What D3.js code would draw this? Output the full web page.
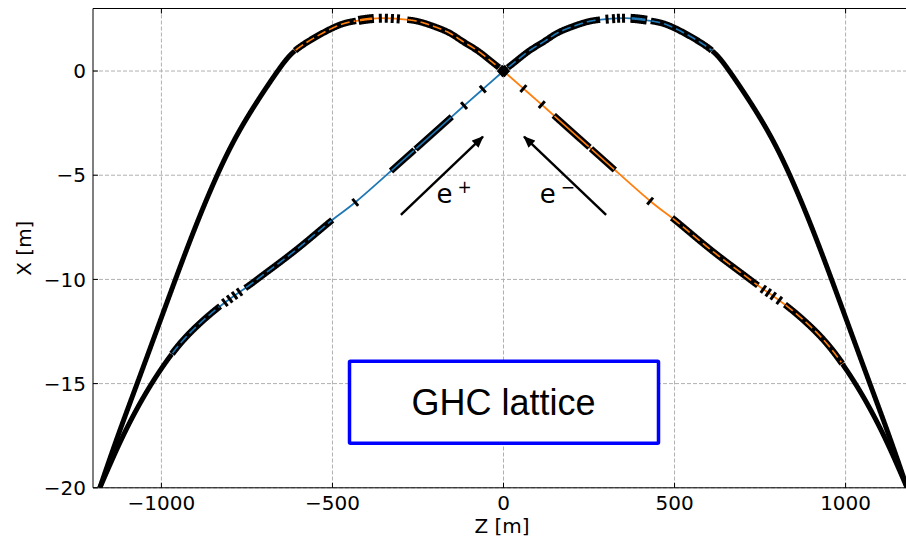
<!DOCTYPE html>
<html><head><meta charset="utf-8">
<script src="https://cdn.jsdelivr.net/npm/d3@7"></script>
<style>html,body{margin:0;padding:0;overflow:hidden;background:#fff}</style>
</head><body>
<svg id="c" width="906" height="541"></svg>
<script>
// ---------------- data ----------------
const zTicks = [-1000, -500, 0, 500, 1000];
const xTicks = [0, -5, -10, -15, -20];
const zDomain = [-1200, 1200];
const xDomain = [3, -20];

// e+ beam (blue): incoming branch on the left, arc on the right
const posZ = [-1180, -1129, -1081, -1027, -964, -900, -822, -750, -700, -600, -497, -433, -329, -258, -151, -115, -61, 0,
              40, 78, 120, 156, 200, 250, 300, 370, 440, 500, 594, 660, 759, 837, 901, 959, 1015, 1071, 1127, 1180];
const posX = [-20, -18.1, -16.5, -14.96, -13.46, -12.3, -11.2, -10.36, -9.75, -8.5, -7.1, -6.3, -4.8, -3.76, -2.19, -1.66, -0.88, 0,
              0.52, 1.0, 1.43, 1.81, 2.12, 2.38, 2.49, 2.53, 2.38, 2.06, 1.17, 0, -2.5, -5, -7.5, -10, -12.5, -15, -17.5, -20];
// e- beam (orange): arc on the left, incoming branch on the right
const eleZ = [-1180, -1127, -1071, -1015, -959, -901, -837, -759, -660, -594, -500, -440, -370, -300, -250, -200, -156, -120, -78, -40, 0,
              61, 115, 151, 258, 329, 433, 497, 600, 700, 750, 822, 900, 964, 1027, 1081, 1129, 1180];
const eleX = [-20, -17.5, -15, -12.5, -10, -7.5, -5, -2.5, 0, 1.17, 2.06, 2.38, 2.53, 2.49, 2.38, 2.12, 1.81, 1.43, 1.0, 0.52, 0,
              -0.88, -1.66, -2.19, -3.76, -4.8, -6.3, -7.1, -8.5, -9.75, -10.36, -11.2, -12.3, -13.46, -14.96, -16.5, -18.1, -20];

// lattice elements along Z
const posSolid   = [[-1180, -970], [610, 1180]];
const posBox     = [[-329, -260], [-257, -151]];
const posDashBox = [[-970, -828], [-755, -500], [12, 283], [430, 610]];
const posBigBox  = [[370, 420]];
const posTicks   = [-815, -800, -786, -772, -433, -115, -61, 303, 321, 336, 351];

const eleSolid   = [[-1180, -610], [990, 1180]];
const eleBox     = [[146, 252], [255, 326]];
const eleDashBox = [[-610, -430], [-282, -12], [492, 745], [822, 990]];
const eleBigBox  = [[-425, -378]];
const eleTicks   = [-360, -343, -325, -307, 58, 112, 429, 759, 774, 789, 806];
const ipRange    = [-12, 12];

const arrowFrom = [[-300, -6.9], [300, -6.9]];
const arrowTo   = [[-60, -3.15], [60, -3.15]];
const labelPos  = [[-196, -6.33], [106, -6.33]];
const labelSup  = ["+", "\u2212"];
const boxText = "GHC lattice";
const boxPos = [0, -15.9];

// ---------------- drawing ----------------
const L = 93, T = 8.5, R = 914, B = 487.8;
const svg = d3.select('#c');
const x = d3.scaleLinear().domain(zDomain).range([L, R]);
const y = d3.scaleLinear().domain(xDomain).range([T, B]);
const BLUE = '#1f77b4', ORANGE = '#ff7f0e';
const FONT = 'DejaVu Sans, sans-serif';

const defs = svg.append('defs');
defs.append('clipPath').attr('id', 'plotclip')
  .append('rect').attr('x', L).attr('y', T).attr('width', R - L).attr('height', B - T);

// grid
const grid = svg.append('g').attr('stroke', '#b0b0b0').attr('stroke-width', 1).attr('stroke-dasharray', '4,2');
zTicks.forEach(t => grid.append('line').attr('x1', x(t)).attr('x2', x(t)).attr('y1', T).attr('y2', B));
xTicks.forEach(t => grid.append('line').attr('x1', L).attr('x2', R).attr('y1', y(t)).attr('y2', y(t)));

const curveLine = d3.line().x(d => x(d[0])).y(d => y(d[1])).curve(d3.curveNatural);
const pxLine = d3.line();
const plot = svg.append('g').attr('clip-path', 'url(#plotclip)');

function sampleBeam(Z, X) {
  const pts = Z.map((z, i) => [z, X[i]]);
  // two branches meet with a kink at the interaction point (Z = 0)
  const parts = [pts.filter(p => p[0] <= 0), pts.filter(p => p[0] >= 0)];
  const s = [];
  const ds = [];
  parts.forEach(part => {
    const d = curveLine(part);
    ds.push(d);
    const tmp = plot.append('path').attr('d', d).attr('fill', 'none');
    const node = tmp.node();
    const len = node.getTotalLength();
    for (let l = 0; l <= len; l += 0.5) { const p = node.getPointAtLength(l); s.push([p.x, p.y]); }
    tmp.remove();
  });
  return { d: ds.join(''), s };
}
function seg(s, z0, z1) { const a = x(z0), b = x(z1); return s.filter(p => p[0] >= a && p[0] <= b); }

function drawBeam(Z, X, color, solid, box, dashBox, bigBox, ticks) {
  const b = sampleBeam(Z, X);
  const g = plot.append('g').attr('fill', 'none');
  g.append('path').attr('d', b.d).attr('stroke', color).attr('stroke-width', 1.8);
  solid.forEach(r => g.append('path').attr('d', pxLine(seg(b.s, r[0], r[1]))).attr('stroke', '#000').attr('stroke-width', 5));
  box.concat(dashBox).forEach(r => g.append('path').attr('d', pxLine(seg(b.s, r[0], r[1]))).attr('stroke', '#000').attr('stroke-width', 6.5));
  bigBox.forEach(r => g.append('path').attr('d', pxLine(seg(b.s, r[0], r[1]))).attr('stroke', '#000').attr('stroke-width', 9));
  box.forEach(r => g.append('path').attr('d', pxLine(seg(b.s, r[0] + 2, r[1] - 2))).attr('stroke', color).attr('stroke-width', 1.6));
  dashBox.forEach(r => g.append('path').attr('d', pxLine(seg(b.s, r[0] + 2, r[1] - 2))).attr('stroke', color).attr('stroke-width', 1.6).attr('stroke-dasharray', '9,4'));
  bigBox.forEach(r => g.append('path').attr('d', pxLine(seg(b.s, r[0] + 4, r[1] - 4))).attr('stroke', color).attr('stroke-width', 2.5));
  ticks.forEach(t => {
    const px = x(t);
    const i = d3.leastIndex(b.s, p => Math.abs(p[0] - px));
    const a = b.s[Math.max(0, i - 4)], c = b.s[Math.min(b.s.length - 1, i + 4)];
    let dx = c[0] - a[0], dy = c[1] - a[1]; const n = Math.hypot(dx, dy); dx /= n; dy /= n;
    const p = b.s[i], h = 4.5;
    g.append('line').attr('x1', p[0] - dy * h).attr('y1', p[1] + dx * h).attr('x2', p[0] + dy * h).attr('y2', p[1] - dx * h)
      .attr('stroke', '#000').attr('stroke-width', 3);
  });
  g.append('path').attr('d', pxLine(seg(b.s, ipRange[0], ipRange[1]))).attr('stroke', '#000').attr('stroke-width', 8);
}
drawBeam(eleZ, eleX, ORANGE, eleSolid, eleBox, eleDashBox, eleBigBox, eleTicks);
drawBeam(posZ, posX, BLUE, posSolid, posBox, posDashBox, posBigBox, posTicks);

// spines and ticks
const ax = svg.append('g').attr('stroke', '#000').attr('stroke-width', 1);
ax.append('line').attr('x1', L).attr('x2', L).attr('y1', T).attr('y2', B);
ax.append('line').attr('x1', L).attr('x2', R).attr('y1', T).attr('y2', T);
ax.append('line').attr('x1', L).attr('x2', R).attr('y1', B).attr('y2', B);
ax.append('line').attr('x1', R).attr('x2', R).attr('y1', T).attr('y2', B);
zTicks.forEach(t => {
  ax.append('line').attr('x1', x(t)).attr('x2', x(t)).attr('y1', B).attr('y2', B - 5);
  ax.append('line').attr('x1', x(t)).attr('x2', x(t)).attr('y1', T).attr('y2', T + 5);
});
xTicks.forEach(t => ax.append('line').attr('x1', L).attr('x2', L + 5).attr('y1', y(t)).attr('y2', y(t)));

const fmt = v => (v < 0 ? '\u2212' + Math.abs(v) : String(v));
svg.append('g').selectAll('text').data(zTicks).join('text')
  .attr('x', d => x(d)).attr('y', 510).attr('text-anchor', 'middle')
  .attr('font-family', FONT).attr('font-size', 20).text(fmt);
svg.append('g').selectAll('text').data(xTicks).join('text')
  .attr('x', 86).attr('y', d => y(d)).attr('dy', '0.36em').attr('text-anchor', 'end')
  .attr('font-family', FONT).attr('font-size', 20).text(fmt);
svg.append('text').attr('x', 502).attr('y', 533).attr('text-anchor', 'middle')
  .attr('font-family', FONT).attr('font-size', 20).text('Z [m]');
svg.append('text').attr('transform', `translate(31,${(T + B) / 2}) rotate(-90)`).attr('text-anchor', 'middle')
  .attr('font-family', FONT).attr('font-size', 20).text('X [m]');

// arrows
defs.append('marker').attr('id', 'ah').attr('markerUnits', 'userSpaceOnUse')
  .attr('viewBox', '0 0 12 10').attr('refX', 11).attr('refY', 5)
  .attr('markerWidth', 12).attr('markerHeight', 10).attr('orient', 'auto')
  .append('path').attr('d', 'M0,0 L12,5 L0,10 Z').attr('fill', '#000');
arrowFrom.forEach((f, i) => {
  svg.append('line').attr('x1', x(f[0])).attr('y1', y(f[1])).attr('x2', x(arrowTo[i][0])).attr('y2', y(arrowTo[i][1]))
    .attr('stroke', '#000').attr('stroke-width', 2.4).attr('marker-end', 'url(#ah)');
});
labelPos.forEach((p, i) => {
  const t = svg.append('text').attr('x', x(p[0])).attr('y', y(p[1])).attr('font-family', FONT).attr('font-size', 26);
  t.append('tspan').text('e');
  t.append('tspan').attr('dx', 5).attr('dy', -10).attr('font-size', 17).text(labelSup[i]);
});

// GHC lattice box
svg.append('rect').attr('x', x(boxPos[0]) - 154).attr('y', y(boxPos[1]) - 41).attr('width', 309).attr('height', 82)
  .attr('rx', 1).attr('fill', '#fff').attr('stroke', '#0000ff').attr('stroke-width', 3.5);
svg.append('text').attr('x', x(boxPos[0])).attr('y', y(boxPos[1]) + 13).attr('text-anchor', 'middle')
  .attr('font-family', 'Liberation Sans, Arial, sans-serif').attr('font-size', 36).text(boxText);
</script>
</body></html>
